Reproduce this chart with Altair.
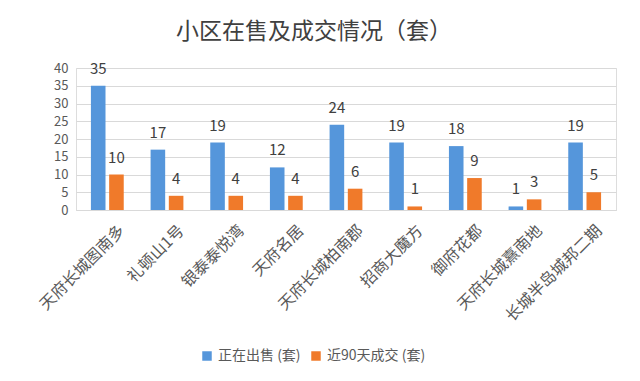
import altair as alt
import pandas as pd

categories = ["天府长城图南多", "礼顿山1号", "银泰泰悦湾", "天府名居", "天府长城柏南郡",
              "招商大魔方", "御府花都", "天府长城熹南地", "长城半岛城邦二期"]
on_sale = [35, 17, 19, 12, 24, 19, 18, 1, 19]
sold_90 = [10, 4, 4, 4, 6, 1, 9, 3, 5]
series = ["正在出售 (套)", "近90天成交 (套)"]
colors = ["#5596DB", "#F07A2A"]
y_ticks = [0, 5, 10, 15, 20, 25, 30, 35, 40]

rows = []
for i, c in enumerate(categories):
    rows.append({"cat": c, "series": series[0], "value": on_sale[i]})
    rows.append({"cat": c, "series": series[1], "value": sold_90[i]})
df = pd.DataFrame(rows)

FONT = "Noto Sans CJK SC"
xenc = alt.X("cat:N", sort=categories, title=None,
             scale=alt.Scale(paddingInner=0.45, paddingOuter=0.25),
             axis=alt.Axis(labelAngle=-45, labelFontSize=16, labelColor="#595959",
                           labelFont=FONT, domainColor="#d9d9d9", ticks=False,
                           labelPadding=12, labelOffset=9, labelLimit=220))
xoff = alt.XOffset("series:N", sort=series, scale=alt.Scale(paddingInner=0.2))
yenc = alt.Y("value:Q", title=None, scale=alt.Scale(domain=[0, 40]),
             axis=alt.Axis(values=y_ticks, labelFontSize=13,
                           labelColor="#595959", labelFont=FONT, domain=False,
                           labelOverlap=False, labelFlush=False,
                           ticks=False, gridColor="#d9d9d9", labelPadding=8))

bars = alt.Chart(df).mark_bar().encode(
    x=xenc,
    xOffset=xoff,
    y=yenc,
    color=alt.Color("series:N", sort=series,
                    scale=alt.Scale(domain=series, range=colors),
                    legend=alt.Legend(title=None, orient="none", direction="horizontal",
                                      legendX=124, legendY=281, symbolType="square",
                                      symbolSize=90, labelFontSize=14, labelFont=FONT,
                                      labelColor="#595959", columnPadding=8,
                                      symbolStrokeWidth=0)),
)

labels = alt.Chart(df).mark_text(baseline="bottom", dy=-9, fontSize=15,
                                 color="#404040", font=FONT).encode(
    x=xenc,
    xOffset=xoff,
    y=yenc,
    text="value:Q",
)

chart = (bars + labels).properties(
    width=540, height=142,
    autosize="none",
    padding={"left": 76, "top": 68, "right": 24, "bottom": 171},
    title=alt.TitleParams("小区在售及成交情况（套）", fontSize=23, font=FONT,
                          fontWeight="normal", color="#404040", dx=-32, offset=18),
).configure_view(stroke=None).configure(background="white")

chart.save("out.html", embed_options={"renderer": "svg", "actions": False})
